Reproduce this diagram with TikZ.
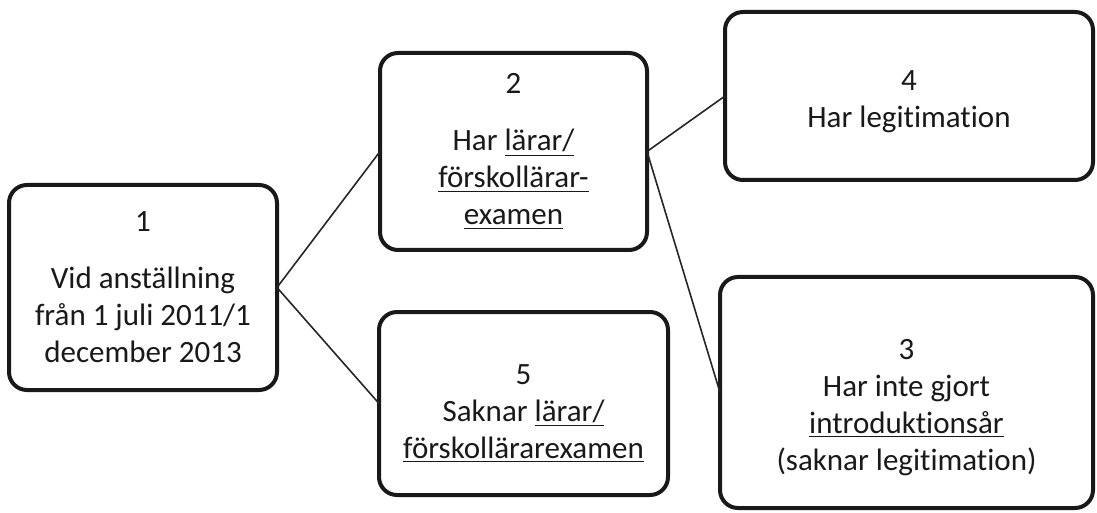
\documentclass[tikz,border=0pt]{standalone}
\usepackage{fontspec}
\setmainfont[Ligatures=NoCommon]{Carlito}
\newcommand{\topgap}[1]{\rule{0pt}{#1}}
\begin{document}
\begin{tikzpicture}[x=0.5pt,y=-0.5pt,
  box/.style={draw=black!90, line width=2pt, rounded corners=9pt, fill=white,
    align=center, inner sep=0pt, outer sep=0pt, text=black!90,
    font=\fontsize{15.5pt}{18.5pt}\selectfont},
  link/.style={draw=black!85, line width=0.8pt}]
\useasboundingbox (0,0) rectangle (1097,513);
\node[box, minimum width=134pt, minimum height=102.5pt] (b1) at (143,287.5)
  {1\\[10pt]Vid anställning\\från 1 juli 2011/1\\december 2013};
\node[box, minimum width=133.5pt, minimum height=98.5pt] (b2) at (513.5,151.5)
  {2\\[10pt]Har \underline{lärar/}\\\underline{förskollärar-}\\\underline{examen}};
\node[box, minimum width=144.5pt, minimum height=91.5pt] (b5) at (523.5,403.5)
  {\topgap{20pt}5\\Saknar \underline{lärar/}\\\underline{förskollärarexamen}};
\node[box, minimum width=184pt, minimum height=84pt] (b4) at (909,96)
  {\topgap{16pt}4\\Har legitimation};
\node[box, minimum width=186.5pt, minimum height=115.5pt] (b3) at (906.5,392.5)
  {\topgap{25pt}3\\Har inte gjort\\\underline{introduktionsår}\\(saknar legitimation)};
\draw[link] (b1.east) -- (b2.west);
\draw[link] (b1.east) -- (b5.west);
\draw[link] (b2.east) -- (b4.west);
\draw[link] (b2.east) -- (b3.west);
\end{tikzpicture}
\end{document}
